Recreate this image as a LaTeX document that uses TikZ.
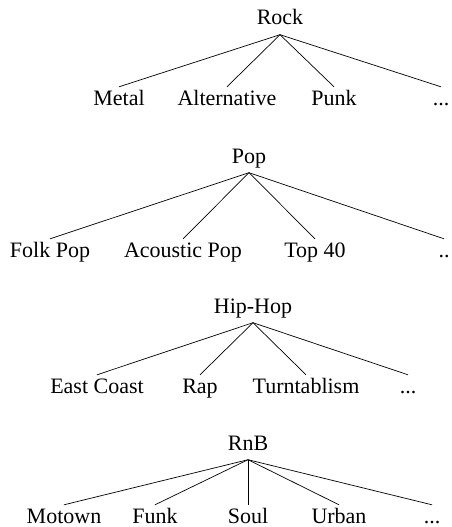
\documentclass[tikz,border=0pt]{standalone}
\usepackage{fontspec}
\setmainfont{Liberation Serif}
\begin{document}
\begin{tikzpicture}[x=1pt,y=-1pt,
  every node/.style={font=\fontsize{22}{26}\selectfont, anchor=base, text depth=0pt},
  parent/.style={inner xsep=2pt, inner ysep=9.5pt, text height=15pt},
  child/.style={inner xsep=2pt, inner ysep=3pt, text height=15pt},
  edge/.style={draw=black, line width=0.7pt}]
\useasboundingbox (0,0) rectangle (452,527);
% Rock
\node[parent] (rock) at (280,25) {Rock};
\node[child] (metal) at (119,105) {Metal};
\node[child] (alt) at (227,105) {Alternative};
\node[child] (punk) at (334,105) {Punk};
\node[child] (rdots) at (441,105) {...};
\foreach \c in {metal,alt,punk,rdots} \draw[edge] (rock.south) -- (\c.north);
% Pop
\node[parent] (pop) at (249,163) {Pop};
\node[child] (folk) at (50,257) {Folk Pop};
\node[child] (acou) at (183,257) {Acoustic Pop};
\node[child] (top) at (315,257) {Top 40};
\node[child] (pdots) at (444,257) {..};
\foreach \c in {folk,acou,top,pdots} \draw[edge] (pop.south) -- (\c.north);
% Hip-Hop
\node[parent] (hip) at (253,313) {Hip-Hop};
\node[child] (east) at (97,393) {East Coast};
\node[child] (rap) at (200,393) {Rap};
\node[child] (turn) at (306,393) {Turntablism};
\node[child] (hdots) at (408,393) {...};
\foreach \c in {east,rap,turn,hdots} \draw[edge] (hip.south) -- (\c.north);
% RnB
\node[parent] (rnb) at (248,450) {RnB};
\node[child] (motown) at (64,523) {Motown};
\node[child] (funk) at (155,523) {Funk};
\node[child] (soul) at (248,523) {Soul};
\node[child] (urban) at (339,523) {Urban};
\node[child] (ndots) at (432,523) {...};
\foreach \c in {motown,funk,soul,urban,ndots} \draw[edge] (rnb.south) -- (\c.north);
\end{tikzpicture}
\end{document}
